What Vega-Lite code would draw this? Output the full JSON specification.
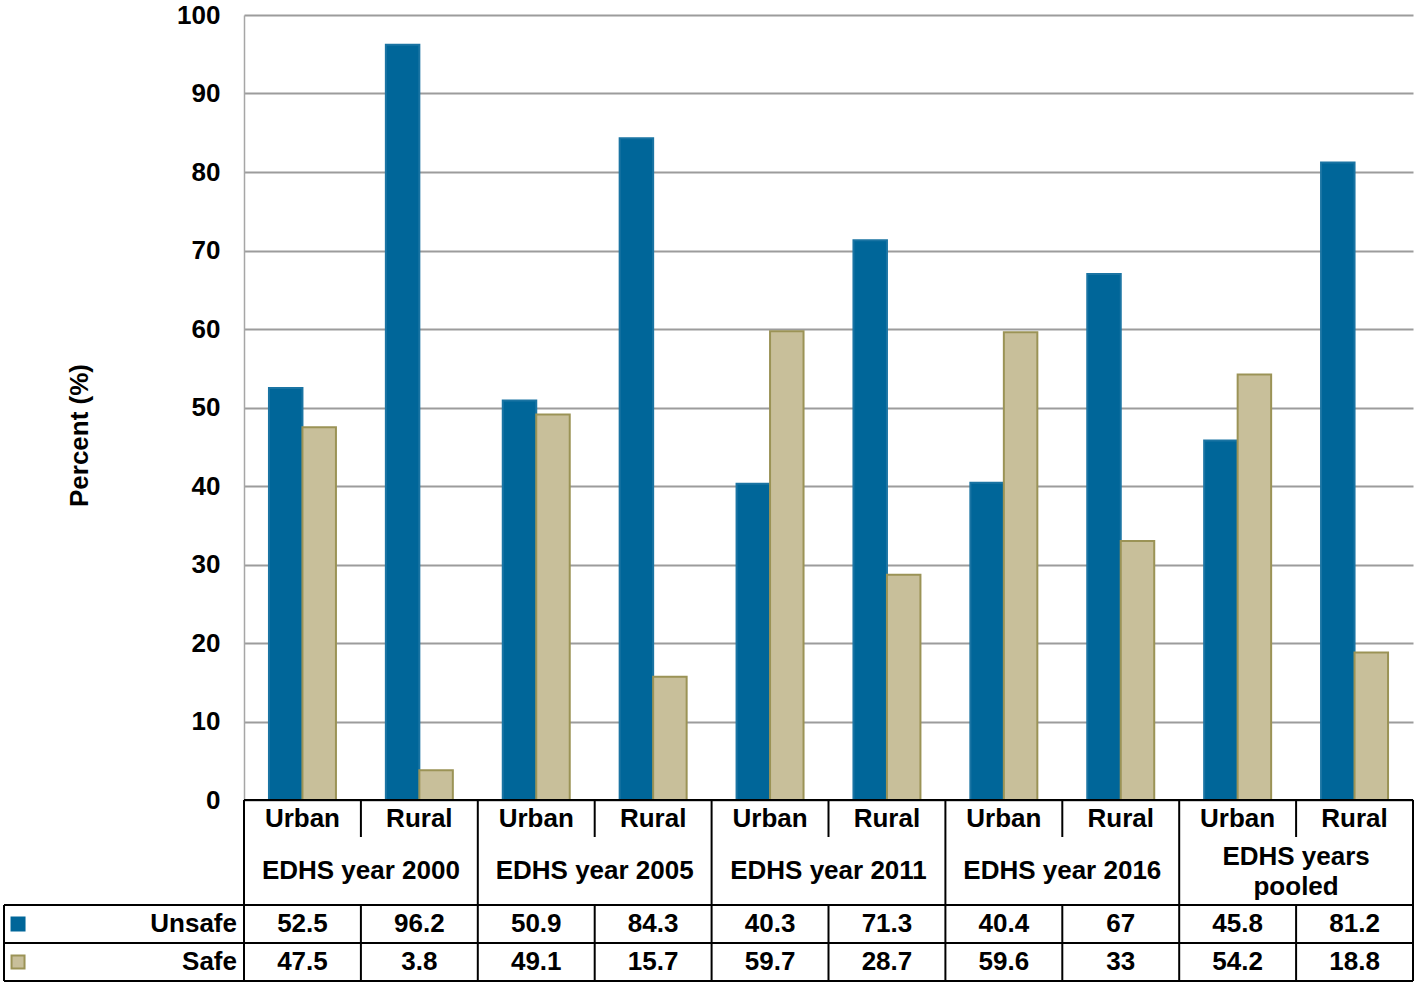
{
  "$schema": "https://vega.github.io/schema/vega-lite/v6.json",
  "padding": {"top": 2, "left": 3, "right": 4, "bottom": 2},
  "background": "white",
  "config": {
    "font": "Liberation Sans",
    "view": {"stroke": null},
    "text": {"font": "Liberation Sans", "fontWeight": "bold", "fontSize": 26, "color": "#000000"}
  },
  "datasets": {
    "main": [
      {"key": "2000 Urban", "area": "Urban", "year": "EDHS year 2000", "series": "Unsafe", "value": 52.5},
      {"key": "2000 Urban", "area": "Urban", "year": "EDHS year 2000", "series": "Safe", "value": 47.5},
      {"key": "2000 Rural", "area": "Rural", "year": "EDHS year 2000", "series": "Unsafe", "value": 96.2},
      {"key": "2000 Rural", "area": "Rural", "year": "EDHS year 2000", "series": "Safe", "value": 3.8},
      {"key": "2005 Urban", "area": "Urban", "year": "EDHS year 2005", "series": "Unsafe", "value": 50.9},
      {"key": "2005 Urban", "area": "Urban", "year": "EDHS year 2005", "series": "Safe", "value": 49.1},
      {"key": "2005 Rural", "area": "Rural", "year": "EDHS year 2005", "series": "Unsafe", "value": 84.3},
      {"key": "2005 Rural", "area": "Rural", "year": "EDHS year 2005", "series": "Safe", "value": 15.7},
      {"key": "2011 Urban", "area": "Urban", "year": "EDHS year 2011", "series": "Unsafe", "value": 40.3},
      {"key": "2011 Urban", "area": "Urban", "year": "EDHS year 2011", "series": "Safe", "value": 59.7},
      {"key": "2011 Rural", "area": "Rural", "year": "EDHS year 2011", "series": "Unsafe", "value": 71.3},
      {"key": "2011 Rural", "area": "Rural", "year": "EDHS year 2011", "series": "Safe", "value": 28.7},
      {"key": "2016 Urban", "area": "Urban", "year": "EDHS year 2016", "series": "Unsafe", "value": 40.4},
      {"key": "2016 Urban", "area": "Urban", "year": "EDHS year 2016", "series": "Safe", "value": 59.6},
      {"key": "2016 Rural", "area": "Rural", "year": "EDHS year 2016", "series": "Unsafe", "value": 67},
      {"key": "2016 Rural", "area": "Rural", "year": "EDHS year 2016", "series": "Safe", "value": 33},
      {"key": "Pooled Urban", "area": "Urban", "year": "EDHS years\npooled", "series": "Unsafe", "value": 45.8},
      {"key": "Pooled Urban", "area": "Urban", "year": "EDHS years\npooled", "series": "Safe", "value": 54.2},
      {"key": "Pooled Rural", "area": "Rural", "year": "EDHS years\npooled", "series": "Unsafe", "value": 81.2},
      {"key": "Pooled Rural", "area": "Rural", "year": "EDHS years\npooled", "series": "Safe", "value": 18.8}
    ],
    "gridlines": [
      {"x": 0, "x2": 10, "y": 0, "y2": 0},
      {"x": -2.053, "x2": 10, "y": 105, "y2": 105},
      {"x": -2.053, "x2": 10, "y": 143, "y2": 143},
      {"x": -2.053, "x2": 10, "y": 181, "y2": 181},
      {"x": -2.053, "x2": -2.053, "y": 105, "y2": 181},
      {"x": 0, "x2": 0, "y": 0, "y2": 181},
      {"x": 2, "x2": 2, "y": 0, "y2": 181},
      {"x": 4, "x2": 4, "y": 0, "y2": 181},
      {"x": 6, "x2": 6, "y": 0, "y2": 181},
      {"x": 8, "x2": 8, "y": 0, "y2": 181},
      {"x": 10, "x2": 10, "y": 0, "y2": 181},
      {"x": 1, "x2": 1, "y": 0, "y2": 37},
      {"x": 3, "x2": 3, "y": 0, "y2": 37},
      {"x": 5, "x2": 5, "y": 0, "y2": 37},
      {"x": 7, "x2": 7, "y": 0, "y2": 37},
      {"x": 9, "x2": 9, "y": 0, "y2": 37},
      {"x": 1, "x2": 1, "y": 105, "y2": 181},
      {"x": 3, "x2": 3, "y": 105, "y2": 181},
      {"x": 5, "x2": 5, "y": 105, "y2": 181},
      {"x": 7, "x2": 7, "y": 105, "y2": 181},
      {"x": 9, "x2": 9, "y": 105, "y2": 181}
    ],
    "legendRows": [
      {"series": "Unsafe"},
      {"series": "Safe"}
    ]
  },
  "vconcat": [
    {
      "width": 1169,
      "height": 785,
      "data": {"name": "main"},
      "mark": {"type": "bar", "strokeWidth": 2},
      "encoding": {
        "x": {
          "field": "key", "type": "nominal", "axis": null,
          "scale": {
            "domain": ["2000 Urban", "2000 Rural", "2005 Urban", "2005 Rural", "2011 Urban", "2011 Rural", "2016 Urban", "2016 Rural", "Pooled Urban", "Pooled Rural"],
            "paddingInner": 0.427, "paddingOuter": 0.2135
          }
        },
        "xOffset": {"field": "series", "type": "nominal", "scale": {"domain": ["Unsafe", "Safe"], "paddingInner": 0}},
        "y": {
          "field": "value", "type": "quantitative",
          "scale": {"domain": [0, 100], "nice": false},
          "axis": {
            "title": "Percent (%)",
            "values": [0, 10, 20, 30, 40, 50, 60, 70, 80, 90, 100],
            "ticks": false,
            "labelPadding": 24,
            "labelFont": "Liberation Sans", "labelFontSize": 26, "labelFontWeight": "bold", "labelColor": "#000000",
            "titleFont": "Liberation Sans", "titleFontSize": 26, "titleFontWeight": "bold", "titleColor": "#000000",
            "titlePadding": 84,
            "titleY": 420,
            "domainColor": "#a6a6a6", "domainWidth": 1.5,
            "gridColor": "#9c9c9c", "gridWidth": 2, "gridOpacity": 1
          }
        },
        "color": {"field": "series", "type": "nominal", "legend": null,
          "scale": {"domain": ["Unsafe", "Safe"], "range": ["#006699", "#c8bf9a"]}},
        "stroke": {"field": "series", "type": "nominal", "legend": null,
          "scale": {"domain": ["Unsafe", "Safe"], "range": ["#1a74a3", "#9b9356"]}}
      }
    },
    {
      "width": 1169,
      "height": 181,
      "resolve": {"scale": {"x": "independent", "y": "independent", "color": "independent", "stroke": "independent"}},
      "layer": [
        {
          "data": {"name": "gridlines"},
          "mark": {"type": "rule", "color": "#000000", "strokeWidth": 2},
          "encoding": {
            "x": {"field": "x", "type": "quantitative", "axis": null, "scale": {"domain": [0, 10], "nice": false, "zero": false}},
            "x2": {"field": "x2"},
            "y": {"field": "y", "type": "quantitative", "axis": null, "scale": {"domain": [0, 181], "nice": false, "zero": false, "reverse": true}},
            "y2": {"field": "y2"}
          }
        },
        {
          "data": {"name": "main"},
          "transform": [{"filter": "datum.series === 'Unsafe'"}],
          "mark": {"type": "text", "baseline": "middle", "align": "center"},
          "encoding": {
            "x": {"field": "key", "type": "nominal", "axis": null, "bandPosition": 0.5,
              "scale": {"type": "band", "domain": ["2000 Urban", "2000 Rural", "2005 Urban", "2005 Rural", "2011 Urban", "2011 Rural", "2016 Urban", "2016 Rural", "Pooled Urban", "Pooled Rural"], "paddingInner": 0, "paddingOuter": 0}},
            "y": {"datum": 19, "type": "quantitative", "axis": null, "scale": {"domain": [0, 181], "nice": false, "zero": false, "reverse": true}},
            "text": {"field": "area"}
          }
        },
        {
          "data": {"name": "main"},
          "transform": [{"filter": "datum.series === 'Unsafe' && datum.area === 'Rural' && datum.key !== 'Pooled Rural'"}],
          "mark": {"type": "text", "baseline": "middle", "align": "center"},
          "encoding": {
            "x": {"field": "key", "type": "nominal", "axis": null, "bandPosition": 0,
              "scale": {"type": "band", "domain": ["2000 Urban", "2000 Rural", "2005 Urban", "2005 Rural", "2011 Urban", "2011 Rural", "2016 Urban", "2016 Rural", "Pooled Urban", "Pooled Rural"], "paddingInner": 0, "paddingOuter": 0}},
            "y": {"datum": 71, "type": "quantitative", "axis": null, "scale": {"domain": [0, 181], "nice": false, "zero": false, "reverse": true}},
            "text": {"field": "year"}
          }
        },
        {
          "data": {"name": "main"},
          "transform": [{"filter": "datum.series === 'Unsafe' && datum.key === 'Pooled Rural'"}],
          "mark": {"type": "text", "baseline": "middle", "align": "center", "lineBreak": "\n", "lineHeight": 30},
          "encoding": {
            "x": {"field": "key", "type": "nominal", "axis": null, "bandPosition": 0,
              "scale": {"type": "band", "domain": ["2000 Urban", "2000 Rural", "2005 Urban", "2005 Rural", "2011 Urban", "2011 Rural", "2016 Urban", "2016 Rural", "Pooled Urban", "Pooled Rural"], "paddingInner": 0, "paddingOuter": 0}},
            "y": {"datum": 57, "type": "quantitative", "axis": null, "scale": {"domain": [0, 181], "nice": false, "zero": false, "reverse": true}},
            "text": {"field": "year"}
          }
        },
        {
          "data": {"name": "main"},
          "mark": {"type": "text", "baseline": "middle", "align": "center"},
          "encoding": {
            "x": {"field": "key", "type": "nominal", "axis": null, "bandPosition": 0.5,
              "scale": {"type": "band", "domain": ["2000 Urban", "2000 Rural", "2005 Urban", "2005 Rural", "2011 Urban", "2011 Rural", "2016 Urban", "2016 Rural", "Pooled Urban", "Pooled Rural"], "paddingInner": 0, "paddingOuter": 0}},
            "y": {"field": "series", "type": "nominal", "axis": null,
              "scale": {"type": "point", "domain": ["Unsafe", "Safe"], "range": [124, 162], "padding": 0}},
            "text": {"field": "value", "type": "quantitative"}
          }
        },
        {
          "data": {"name": "legendRows"},
          "mark": {"type": "text", "baseline": "middle", "align": "right"},
          "encoding": {
            "x": {"datum": -0.06, "type": "quantitative", "axis": null, "scale": {"domain": [0, 10], "nice": false, "zero": false}},
            "y": {"field": "series", "type": "nominal", "axis": null,
              "scale": {"type": "point", "domain": ["Unsafe", "Safe"], "range": [124, 162], "padding": 0}},
            "text": {"field": "series"}
          }
        },
        {
          "data": {"name": "legendRows"},
          "mark": {"type": "square", "size": 169, "opacity": 1, "strokeWidth": 2},
          "encoding": {
            "x": {"datum": -1.933, "type": "quantitative", "axis": null, "scale": {"domain": [0, 10], "nice": false, "zero": false}},
            "y": {"field": "series", "type": "nominal", "axis": null,
              "scale": {"type": "point", "domain": ["Unsafe", "Safe"], "range": [124, 162], "padding": 0}},
            "color": {"field": "series", "type": "nominal", "legend": null,
              "scale": {"domain": ["Unsafe", "Safe"], "range": ["#006699", "#c8bf9a"]}},
            "stroke": {"field": "series", "type": "nominal", "legend": null,
              "scale": {"domain": ["Unsafe", "Safe"], "range": ["#006699", "#9b9356"]}}
          }
        }
      ]
    }
  ],
  "spacing": 0,
  "bounds": "flush"
}
